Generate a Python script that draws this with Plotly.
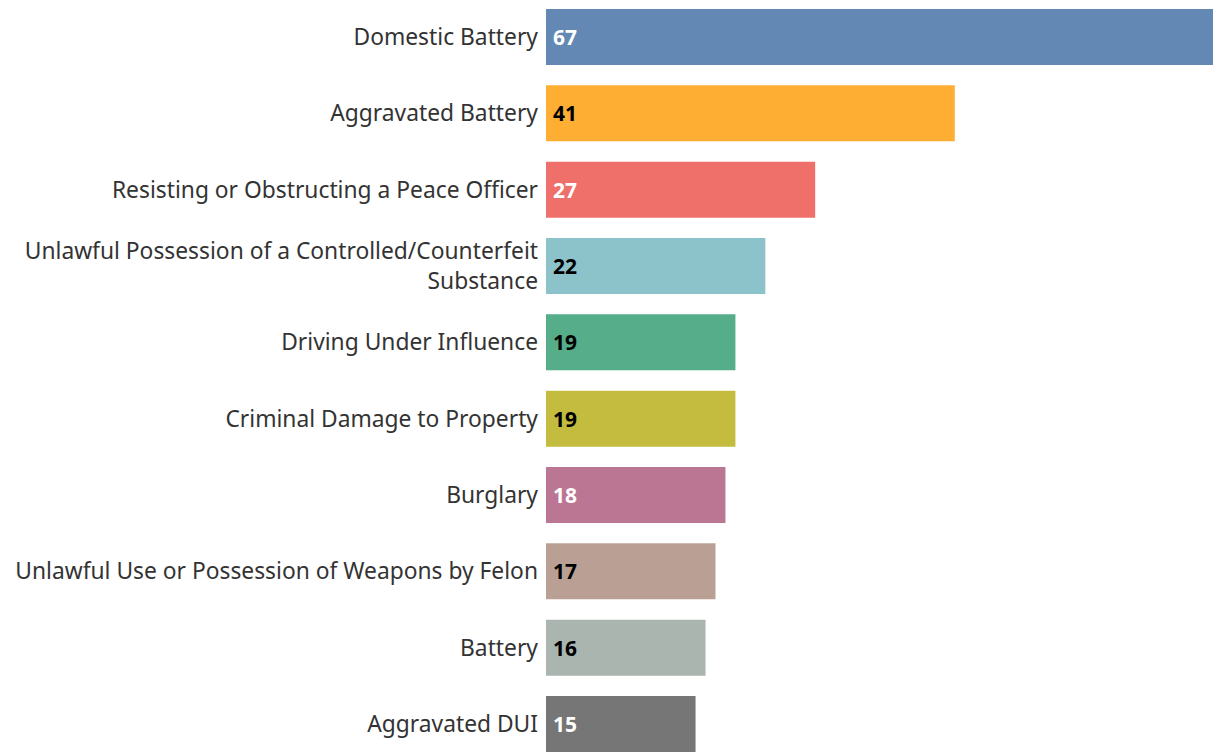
import plotly.graph_objects as go

# offence categories, top to bottom
categories = [
    "Domestic Battery",
    "Aggravated Battery",
    "Resisting or Obstructing a Peace Officer",
    "Unlawful Possession of a Controlled/Counterfeit<br>Substance",
    "Driving Under Influence",
    "Criminal Damage to Property",
    "Burglary",
    "Unlawful Use or Possession of Weapons by Felon",
    "Battery",
    "Aggravated DUI",
]
counts = [67, 41, 27, 22, 19, 19, 18, 17, 16, 15]

bar_colors = ["#6388b4", "#ffae34", "#ef6f6a", "#8cc2ca", "#55ad89",
              "#c3bc3f", "#bb7693", "#baa094", "#a9b5ae", "#767676"]
label_colors = ["white", "black", "white", "black", "black",
                "black", "white", "black", "black", "white"]

fig = go.Figure(
    go.Bar(
        x=counts,
        y=list(range(len(categories))),
        orientation="h",
        width=0.734,
        marker=dict(color=bar_colors, line=dict(width=0)),
        hoverinfo="skip",
    )
)

# value labels just inside the start of each bar
for i, (c, col) in enumerate(zip(counts, label_colors)):
    fig.add_annotation(
        x=0, y=i, text=f"<b>{c}</b>", showarrow=False,
        xanchor="left", yanchor="middle", xshift=5,
        font=dict(family="Noto Sans", size=21, color=col),
    )

# the page body has an 8px margin, so the figure is sized/offset to compensate
fig.update_layout(
    width=1213,
    height=746,
    margin=dict(l=538, r=7, t=0, b=0, autoexpand=False),
    plot_bgcolor="white",
    paper_bgcolor="white",
    showlegend=False,
    xaxis=dict(range=[0, 67], visible=False, fixedrange=True),
    yaxis=dict(
        range=[9.393, -0.380],
        tickmode="array",
        tickvals=list(range(len(categories))),
        ticktext=categories,
        showgrid=False,
        zeroline=False,
        showline=False,
        ticks="",
        automargin=False,
        ticklabelstandoff=7,
        tickfont=dict(family="Noto Sans", size=22.8, color="#333333"),
    ),
)

fig.write_html("out.html")
